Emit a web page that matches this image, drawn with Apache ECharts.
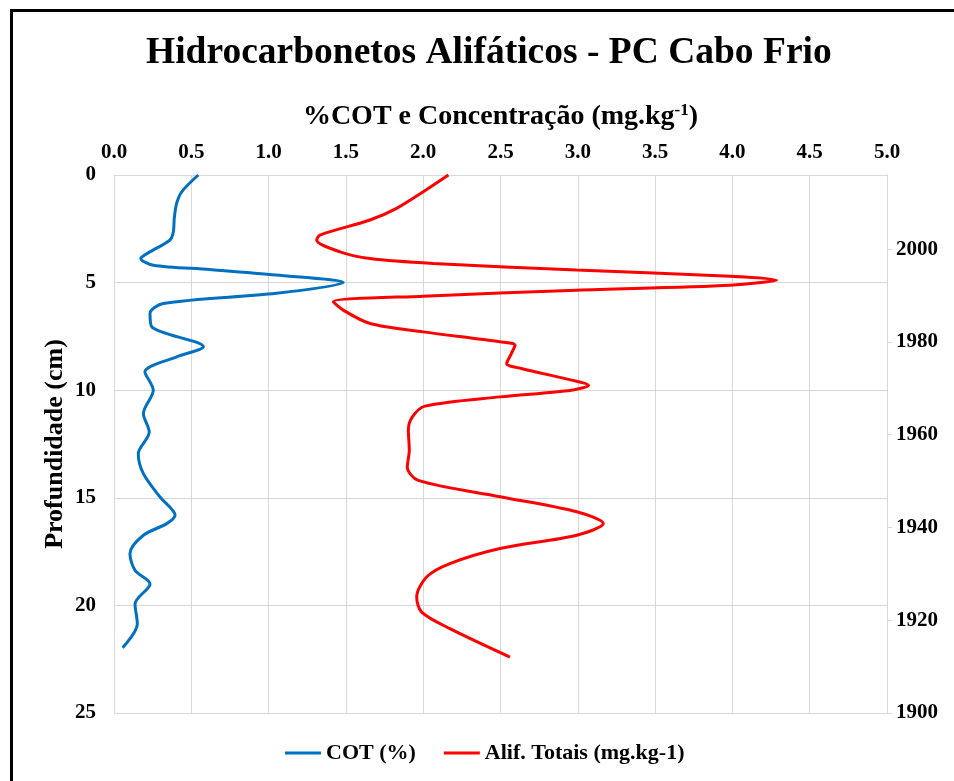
<!DOCTYPE html>
<html>
<head>
<meta charset="utf-8">
<script src="https://cdn.jsdelivr.net/npm/echarts@6/dist/echarts.min.js"></script>
<style>
html,body{margin:0;padding:0;background:#fff;}
#chart{width:954px;height:781px;}
</style>
</head>
<body>
<div id="chart"></div>
<script>
// ---- data ----
const cotDepth = [0,0.78,1.32,2.0,2.64,3.02,3.57,3.88,4.19,4.39,4.65,5.0,5.5,5.97,6.43,7.05,7.98,8.45,9.15,10.0,11.08,11.94,12.95,13.88,14.96,15.81,16.2,16.74,17.6,18.37,19.0,19.93,20.86,21.97];
const cotValue = [0.545,0.438,0.405,0.39,0.384,0.362,0.233,0.173,0.254,0.62,1.05,1.483,1.05,0.319,0.233,0.244,0.578,0.405,0.2,0.254,0.19,0.228,0.157,0.19,0.297,0.395,0.341,0.19,0.103,0.136,0.233,0.136,0.151,0.056];

const alifDepth = [0,0.78,1.55,2.09,2.79,3.02,3.57,3.88,4.11,4.42,4.70,4.88,5.12,5.35,5.63,5.89,6.28,6.9,7.29,7.75,7.91,8.3,8.76,8.99,9.53,9.77,10.0,10.31,10.74,11.24,11.86,12.79,13.57,14.19,14.95,15.65,16.2,16.74,17.36,18.06,18.68,19.61,20.31,21.08,22.4];
const alifValue = [2.163,2.0,1.828,1.656,1.332,1.311,1.462,1.656,2.065,2.993,3.986,4.286,3.986,2.993,2.0,1.419,1.483,1.656,2.0,2.497,2.594,2.57,2.54,2.635,2.959,3.07,2.96,2.497,2.012,1.93,1.904,1.91,1.897,1.968,2.497,2.993,3.165,2.993,2.497,2.173,2.022,1.958,1.99,2.173,2.561];

const seriesNames = ['COT (%)', 'Alif. Totais (mg.kg-1)'];
const titleText = 'Hidrocarbonetos Alifáticos - PC Cabo Frio';
const yearTicks = [1900, 1920, 1940, 1960, 1980, 2000];

const pair = (v, d) => v.map((x, i) => [x, d[i]]);
const FONT = '"Liberation Serif","Times New Roman",serif';
const GRID = '#d9d9d9';

const chart = echarts.init(document.getElementById('chart'));
chart.setOption({
  backgroundColor: '#ffffff',
  animation: false,
  graphic: [{
    type: 'rect',
    shape: {x: 11.5, y: 10.5, width: 1200, height: 1200},
    style: {fill: 'none', stroke: '#000', lineWidth: 3},
    z: 100
  }],
  title: {
    text: titleText,
    left: 141,
    top: 29,
    textStyle: {fontFamily: FONT, fontWeight: 'bold', fontSize: 37.5, color: '#000'}
  },
  legend: {
    left: 280,
    top: 737,
    icon: 'rect',
    itemWidth: 36,
    itemHeight: 3,
    itemGap: 28,
    textStyle: {fontFamily: FONT, fontWeight: 'bold', fontSize: 22, color: '#000'},
    data: seriesNames
  },
  grid: {left: 114, right: 67, top: 175, bottom: 68, containLabel: false},
  xAxis: {
    type: 'value',
    position: 'top',
    min: 0, max: 5, interval: 0.5,
    name: '%COT e Concentração (mg.kg{sup|-1})',
    nameLocation: 'middle',
    nameGap: 44,
    nameTextStyle: {
      fontFamily: FONT, fontWeight: 'bold', fontSize: 28, color: '#000',
      rich: {sup: {fontFamily: FONT, fontWeight: 'bold', fontSize: 17, color: '#000', verticalAlign: 'top', padding: [0,0,12,0]}}
    },
    axisLine: {show: true, lineStyle: {color: GRID, width: 1}},
    axisTick: {show: false},
    axisLabel: {
      margin: 12,
      fontFamily: FONT, fontWeight: 'bold', fontSize: 21, color: '#000',
      formatter: v => v.toFixed(1)
    },
    splitLine: {show: true, lineStyle: {color: GRID, width: 1}}
  },
  yAxis: [{
    type: 'value',
    inverse: true,
    min: 0, max: 25, interval: 5,
    name: 'Profundidade (cm)',
    nameLocation: 'middle',
    nameGap: 46,
    nameMoveOverlap: false,
    nameRotate: 90,
    nameTextStyle: {fontFamily: FONT, fontWeight: 'bold', fontSize: 26, color: '#000'},
    axisLine: {show: true, lineStyle: {color: GRID, width: 1}},
    axisTick: {show: false},
    axisLabel: {margin: 18, fontFamily: FONT, fontWeight: 'bold', fontSize: 21, color: '#000'},
    splitLine: {show: true, lineStyle: {color: GRID, width: 1}}
  }, {
    type: 'value',
    position: 'right',
    min: 1900, max: 2016, interval: 20,
    axisLine: {show: true, lineStyle: {color: GRID, width: 1}},
    axisTick: {show: true, length: 5, inside: false, lineStyle: {color: GRID}},
    axisLabel: {
      margin: 9,
      showMaxLabel: false,
      fontFamily: FONT, fontWeight: 'bold', fontSize: 21, color: '#000',
      formatter: v => (yearTicks.indexOf(v) >= 0 ? String(v) : '')
    },
    splitLine: {show: false}
  }],
  series: [{
    name: seriesNames[0],
    type: 'line',
    yAxisIndex: 0,
    data: pair(cotValue, cotDepth),
    smooth: 0.3,
    symbol: 'none',
    lineStyle: {color: '#0070C0', width: 3},
    itemStyle: {color: '#0070C0'}
  }, {
    name: seriesNames[1],
    type: 'line',
    yAxisIndex: 0,
    data: pair(alifValue, alifDepth),
    smooth: 0.3,
    symbol: 'none',
    lineStyle: {color: '#FF0000', width: 3},
    itemStyle: {color: '#FF0000'}
  }]
});
</script>
</body>
</html>
